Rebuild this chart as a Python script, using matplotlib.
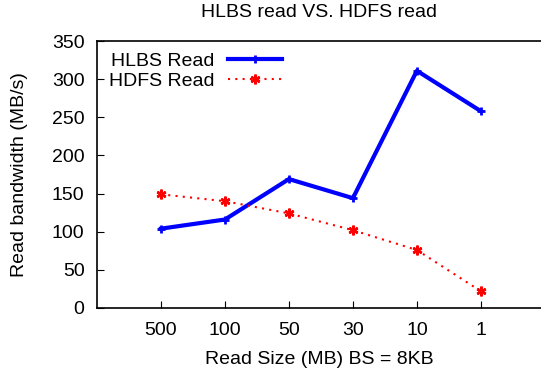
import matplotlib
matplotlib.use("Agg")
import matplotlib.pyplot as plt

plt.rcParams['font.family'] = ['Liberation Sans', 'DejaVu Sans']

sizes = ["500", "100", "50", "30", "10", "1"]
hlbs_read = [104, 116, 169, 144, 311, 258]
hdfs_read = [149, 140, 124, 102, 76, 22]
yticks = [0, 50, 100, 150, 200, 250, 300, 350]

pos = list(range(1, len(sizes) + 1))

fig = plt.figure(figsize=(5.41, 3.74), dpi=100)
ax = fig.add_axes([97 / 541, 1 - 308 / 374, 1 - 97 / 541, (308 - 41) / 374])

ax.plot(pos, hlbs_read, color="#0000ff", lw=3, marker="+", ms=6, mew=2,
        label="HLBS Read")
ax.plot(pos, hdfs_read, color="#ff0000", lw=1.5, ls=(0, (1, 2.5)),
        marker=(6, 2, 0), ms=7, mew=1.8, label="HDFS Read")

ax.set_xlim(0, 6.94)
ax.set_ylim(0, 350)
ax.set_xticks(pos)
ax.set_xticklabels(sizes)
ax.set_yticks(yticks)
ax.tick_params(direction="in", length=5, labelsize=14, pad=10)
ax.tick_params(axis="y", pad=9)
ax.spines["right"].set_visible(False)
for s in ["left", "bottom", "top"]:
    ax.spines[s].set_linewidth(1.2)

ax.set_title("HLBS read VS. HDFS read", fontsize=14, pad=17)
ax.set_xlabel("Read Size (MB) BS = 8KB", fontsize=14, labelpad=9)
ax.set_ylabel("Read bandwidth (MB/s)", fontsize=14, labelpad=17)

ax.legend(loc="upper left", bbox_to_anchor=(0.0, 1.0), frameon=False,
          markerfirst=False, fontsize=14, handlelength=2.8, handletextpad=0.7,
          labelspacing=0.1, borderaxespad=0.2)

fig.savefig("out.png", dpi=100)
